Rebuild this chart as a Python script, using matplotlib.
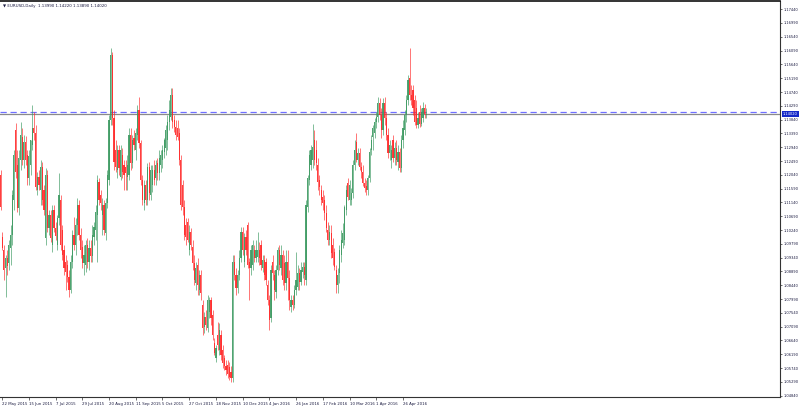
import numpy as np
import matplotlib
matplotlib.use("Agg")
import matplotlib.pyplot as plt
from matplotlib.transforms import blended_transform_factory

symbol = "EURUSD,Daily"

# daily OHLC, in pips (1 pip = 0.0001)
open_pips = [
    11203, 11001, 10959, 10900, 10933, 10917, 10965, 11008, 11122, 11350,
    11236, 11096, 11252, 11327, 11252, 11311, 11269, 11194, 11236, 11301,
    11357, 11340, 11155, 11197, 11155, 11230, 11155, 10998, 11203, 11031,
    11073, 10975, 11089, 11031, 10975, 11063, 11122, 11024, 10959, 10920,
    10910, 10871, 10829, 10920, 11008, 10975, 11040, 11106, 11008, 10969,
    10917, 10910, 10975, 10920, 10965, 10939, 11001, 11024, 11073, 11181,
    11138, 11073, 11106, 11014, 11112, 11187, 11383, 11595, 11389, 11285,
    11220, 11285, 11197, 11269, 11236, 11230, 11197, 11203, 11334, 11243,
    11324, 11285, 11334, 11415, 11308, 11187, 11112, 11171, 11122, 11230,
    11138, 11171, 11220, 11194, 11243, 11210, 11236, 11252, 11278, 11291,
    11318, 11376, 11393, 11464, 11383, 11360, 11357, 11340, 11252, 11171,
    11099, 11040, 11050, 10959, 11018, 10969, 10917, 10851, 10910, 10829,
    10877, 10780, 10708, 10741, 10705, 10757, 10796, 10747, 10656, 10607,
    10682, 10633, 10682, 10633, 10607, 10581, 10584, 10578, 10561, 10542,
    10920, 10877, 10835, 10877, 10933, 11018, 10920, 11001, 11040, 10920,
    10900, 10910, 10959, 10933, 10936, 10959, 10975, 10900, 10926, 10920,
    10845, 10796, 10737, 10920, 10877, 10822, 10894, 10959, 10900, 10943,
    10917, 10851, 10920, 10868, 10773, 10796, 10780, 10829, 10838, 10884,
    10855, 10887, 10904, 10861, 11099, 11187, 11236, 11252, 11318, 11285,
    11236, 11187, 11155, 11132, 11122, 11080, 11024, 10992, 11014, 10975,
    10952, 10894, 10845, 10884, 10943, 10982, 10992, 11089, 11177, 11122,
    11122, 11145, 11236, 11311, 11252, 11275, 11230, 11213, 11177, 11168,
    11155, 11194, 11285, 11327, 11340, 11376, 11393, 11438, 11399, 11350,
    11438, 11389, 11334, 11275, 11252, 11318, 11259, 11291, 11246, 11278,
    11226, 11318, 11350, 11399, 11448, 11520, 11464, 11481, 11448, 11422,
    11367, 11409, 11370, 11389, 11422, 11399,
]
high_pips = [
    11220, 11018, 10975, 10943, 10959, 10992, 11040, 11155, 11285, 11373,
    11285, 11285, 11376, 11357, 11334, 11331, 11285, 11285, 11318, 11432,
    11409, 11367, 11213, 11220, 11252, 11246, 11171, 11226, 11220, 11089,
    11089, 11106, 11106, 11050, 11073, 11210, 11138, 11040, 10975, 10943,
    10926, 10894, 10943, 11024, 11067, 11063, 11128, 11122, 11031, 10992,
    10975, 10992, 10998, 10992, 10992, 11040, 11050, 11106, 11203, 11194,
    11155, 11128, 11122, 11128, 11220, 11399, 11618, 11604, 11415, 11318,
    11301, 11301, 11301, 11291, 11252, 11252, 11269, 11357, 11357, 11334,
    11350, 11357, 11432, 11458, 11318, 11203, 11187, 11187, 11243, 11246,
    11236, 11236, 11252, 11252, 11259, 11285, 11285, 11301, 11324, 11367,
    11399, 11448, 11487, 11487, 11399, 11383, 11383, 11357, 11269, 11187,
    11122, 11063, 11063, 11040, 11031, 10992, 10943, 10920, 10933, 10894,
    10894, 10796, 10757, 10763, 10812, 10806, 10806, 10763, 10672, 10649,
    10724, 10721, 10698, 10649, 10617, 10600, 10600, 10594, 10581, 10943,
    10943, 10900, 10894, 10959, 11034, 11034, 11014, 11024, 11050, 10933,
    10975, 10992, 10975, 10992, 11018, 10985, 10992, 10943, 10943, 10933,
    10861, 10812, 10910, 10943, 10894, 10910, 10969, 10975, 10975, 10959,
    10943, 10959, 10959, 10894, 10812, 10812, 10845, 10952, 10910, 10900,
    10920, 10920, 10920, 11122, 11203, 11285, 11301, 11370, 11350, 11318,
    11259, 11203, 11171, 11155, 11138, 11106, 11050, 11040, 11040, 10998,
    10965, 10910, 10900, 10975, 11024, 11047, 11106, 11171, 11194, 11187,
    11161, 11252, 11318, 11340, 11291, 11291, 11246, 11236, 11194, 11187,
    11203, 11291, 11334, 11367, 11389, 11409, 11458, 11455, 11422, 11455,
    11458, 11409, 11357, 11318, 11301, 11334, 11311, 11318, 11301, 11291,
    11334, 11383, 11415, 11464, 11530, 11618, 11497, 11497, 11464, 11448,
    11409, 11432, 11422, 11441, 11435, 11422,
]
low_pips = [
    11089, 10959, 10861, 10806, 10877, 10894, 10910, 10975, 11089, 11194,
    11083, 11073, 11220, 11236, 11226, 11236, 11171, 11171, 11203, 11285,
    11318, 11155, 11138, 11155, 11106, 11106, 11073, 10975, 11018, 11008,
    10985, 10952, 11018, 10992, 10959, 11040, 10959, 10926, 10877, 10829,
    10855, 10806, 10819, 10900, 10959, 10943, 11008, 10992, 10933, 10900,
    10877, 10887, 10900, 10894, 10920, 10920, 10975, 10992, 10920, 11106,
    11089, 11008, 11008, 10992, 11096, 11171, 11367, 11367, 11220, 11213,
    11194, 11203, 11187, 11194, 11155, 11155, 11155, 11187, 11220, 11226,
    11285, 11252, 11318, 11291, 11171, 11106, 11089, 11106, 11106, 11122,
    11122, 11148, 11171, 11171, 11187, 11187, 11213, 11226, 11259, 11269,
    11285, 11350, 11383, 11357, 11344, 11318, 11318, 11236, 11089, 11073,
    10992, 10975, 10985, 10943, 10959, 10894, 10845, 10829, 10812, 10812,
    10796, 10682, 10688, 10698, 10692, 10737, 10714, 10666, 10617, 10594,
    10633, 10617, 10600, 10574, 10568, 10551, 10542, 10535, 10529, 10529,
    10861, 10812, 10819, 10861, 10920, 10943, 10904, 10943, 10900, 10796,
    10877, 10894, 10920, 10920, 10920, 10910, 10894, 10887, 10861, 10845,
    10780, 10698, 10724, 10861, 10796, 10802, 10877, 10894, 10877, 10845,
    10829, 10829, 10796, 10763, 10757, 10763, 10770, 10812, 10829, 10829,
    10845, 10868, 10845, 10845, 11083, 11171, 11220, 11226, 11236, 11220,
    11155, 11138, 11106, 11089, 11057, 11018, 10975, 10975, 10933, 10910,
    10894, 10819, 10819, 10851, 10920, 10965, 10975, 11073, 11122, 11106,
    11106, 11128, 11220, 11246, 11236, 11220, 11194, 11168, 11148, 11138,
    11138, 11181, 11269, 11285, 11324, 11357, 11376, 11383, 11324, 11334,
    11367, 11318, 11259, 11252, 11226, 11246, 11236, 11236, 11220, 11213,
    11213, 11291, 11334, 11376, 11432, 11448, 11432, 11399, 11367, 11357,
    11357, 11360, 11363, 11376, 11389, 11389,
]
close_pips = [
    11099, 10965, 10894, 10933, 10907, 10975, 11008, 11138, 11269, 11213,
    11096, 11259, 11334, 11252, 11311, 11252, 11194, 11265, 11318, 11357,
    11340, 11164, 11197, 11171, 11230, 11122, 11089, 11203, 11031, 11073,
    10998, 11089, 11031, 11005, 11063, 11138, 10975, 10943, 10900, 10887,
    10871, 10829, 10920, 11008, 10975, 11040, 11106, 11008, 10959, 10917,
    10943, 10975, 10920, 10965, 10939, 11008, 11034, 11083, 11187, 11122,
    11112, 11106, 11024, 11112, 11203, 11383, 11595, 11389, 11246, 11230,
    11285, 11226, 11285, 11213, 11203, 11210, 11236, 11334, 11243, 11318,
    11301, 11340, 11415, 11308, 11187, 11122, 11171, 11122, 11230, 11145,
    11220, 11220, 11187, 11236, 11210, 11259, 11269, 11285, 11318, 11350,
    11376, 11415, 11464, 11376, 11360, 11334, 11327, 11252, 11106, 11099,
    11008, 11001, 10992, 11018, 10975, 10917, 10861, 10900, 10845, 10877,
    10819, 10705, 10741, 10714, 10796, 10796, 10737, 10682, 10623, 10639,
    10649, 10698, 10617, 10591, 10581, 10568, 10555, 10545, 10542, 10920,
    10877, 10835, 10877, 10933, 11018, 10959, 11001, 10959, 10910, 10900,
    10959, 10975, 10933, 10959, 10959, 10933, 10910, 10926, 10877, 10861,
    10796, 10731, 10894, 10884, 10829, 10894, 10959, 10910, 10943, 10861,
    10851, 10920, 10868, 10796, 10796, 10780, 10829, 10861, 10884, 10855,
    10894, 10904, 10877, 11106, 11194, 11269, 11285, 11295, 11252, 11243,
    11181, 11164, 11122, 11112, 11080, 11031, 10992, 11018, 10949, 10933,
    10904, 10845, 10877, 10959, 10992, 11014, 11099, 11155, 11132, 11171,
    11145, 11236, 11285, 11252, 11275, 11230, 11213, 11177, 11161, 11155,
    11194, 11278, 11318, 11357, 11376, 11393, 11438, 11399, 11350, 11438,
    11389, 11334, 11275, 11301, 11285, 11259, 11291, 11252, 11278, 11226,
    11318, 11357, 11399, 11448, 11513, 11464, 11448, 11422, 11376, 11367,
    11389, 11370, 11409, 11422, 11402, 11402,
]

date_labels = [
    "22 May 2015", "15 Jun 2015", "7 Jul 2015", "29 Jul 2015",
    "20 Aug 2015", "11 Sep 2015", "5 Oct 2015", "27 Oct 2015",
    "18 Nov 2015", "10 Dec 2015", "4 Jan 2016", "26 Jan 2016",
    "17 Feb 2016", "10 Mar 2016", "1 Apr 2016", "26 Apr 2016",
]

level_line = 1.14090   # dashed horizontal line

o = np.array(open_pips) / 1e4
h = np.array(high_pips) / 1e4
l = np.array(low_pips) / 1e4
c = np.array(close_pips) / 1e4
N = len(o)
x = np.arange(N)

fig = plt.figure(figsize=(8, 4.08), dpi=100)
fig.patch.set_facecolor("white")
ax = fig.add_axes([0, 11 / 408, 780 / 800, 396 / 408])
ax.set_facecolor("white")
ax.set_xlim(-0.3, 466.8)
ax.set_ylim(1.04798, 1.17707)

col_up = "#3d9a62"
col_dn = "#ff2a2a"
colors = np.where(c >= o, col_up, col_dn)
ax.vlines(x, l, h, colors=colors, linewidth=0.5, alpha=0.9, zorder=2)
body_bottom = np.minimum(o, c)
body_h = np.maximum(np.abs(c - o), 0.00006)
ax.bar(x, body_h, bottom=body_bottom, width=0.72, color=colors,
       linewidth=0, alpha=0.9, zorder=3)

ax.axhline(level_line, color="#6f6fff", lw=0.9, dashes=(5, 3), zorder=1)
ax.axhline(c[-1], color="#8a8a8a", lw=0.9, zorder=1)

ax.spines["left"].set_visible(False)
ax.spines["top"].set_color("#111111")
ax.spines["top"].set_linewidth(1.2)
ax.spines["right"].set_color("#333333")
ax.spines["right"].set_linewidth(0.8)
ax.spines["bottom"].set_color("#333333")
ax.spines["bottom"].set_linewidth(0.8)

price_ticks = np.round(1.17440 - 0.0045 * np.arange(29), 5)
ax.yaxis.tick_right()
ax.set_yticks(price_ticks)
ax.set_yticklabels([f"{v:.5f}" for v in price_ticks], fontsize=2.6,
                   color="#1a1a40")
ax.tick_params(axis="y", which="both", direction="out", length=1.6,
               width=0.5, pad=0.8, right=True, left=False, colors="#333333",
               labelcolor="#1a1a40")

ax.set_xticks(np.arange(1, N, 16)[:len(date_labels)])
ax.set_xticklabels(date_labels, fontsize=2.8, ha="left", color="#1a1a40")
ax.tick_params(axis="x", direction="out", length=2.5, width=0.5, pad=1.0,
               colors="#333333", labelcolor="#1a1a40")

trans = blended_transform_factory(ax.transAxes, ax.transData)
ax.text(1.004, c[-1], f"{c[-1]:.5f}", transform=trans, ha="left",
        va="center", fontsize=2.6, color="white", zorder=10, clip_on=False,
        bbox=dict(boxstyle="square,pad=0.2", fc="#1428c8", ec="none"))

fig.text(3 / 800, 1 - 6 / 408,
         "\u25BC " + symbol + f"  {o[-1]:.5f} {h[-1]:.5f} {l[-1]:.5f} {c[-1]:.5f}",
         fontsize=2.9, color="#1a1a40", va="center", ha="left")

fig.savefig("out.png", dpi=100, facecolor="white")
